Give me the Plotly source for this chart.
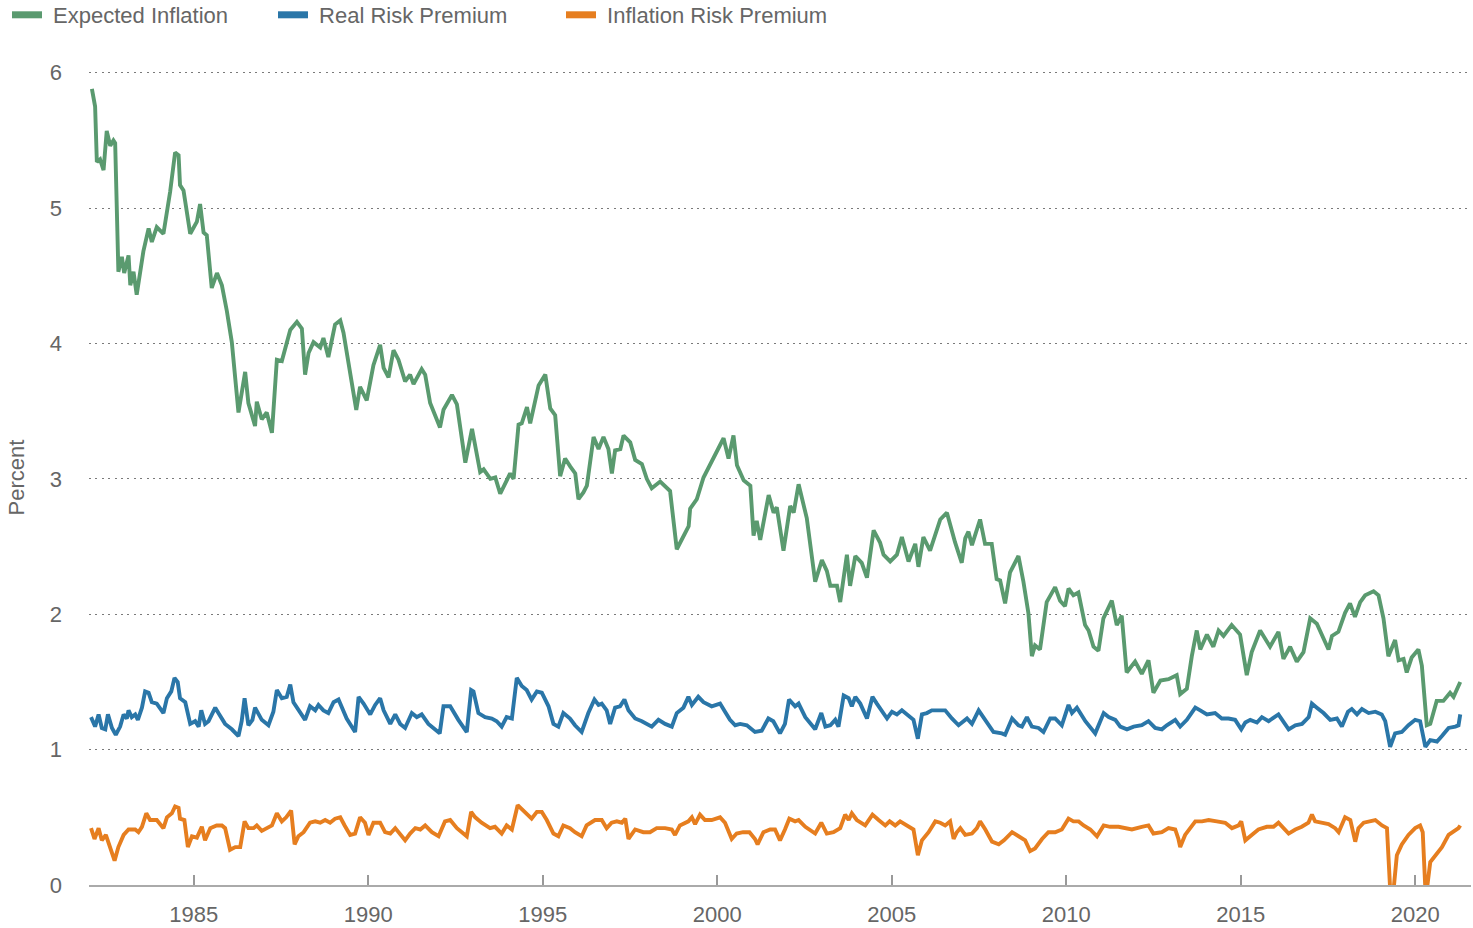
import plotly.graph_objects as go

# ---------------- data ----------------
# time in decimal years
GREEN_T = [1982.083, 1982.175, 1982.225, 1982.317, 1982.417, 1982.508, 1982.608, 1982.70, 1982.75, 1982.842,
           1982.942, 1983.008, 1983.133, 1983.183, 1983.275, 1983.367, 1983.558, 1983.708, 1983.80, 1983.942,
           1984.133, 1984.325, 1984.467, 1984.567, 1984.608, 1984.708, 1984.90, 1984.992, 1985.092, 1985.183,
           1985.283, 1985.375, 1985.517, 1985.667, 1985.808, 1985.95, 1986.092, 1986.283, 1986.475, 1986.567,
           1986.758, 1986.808, 1986.95, 1987.092, 1987.242, 1987.383, 1987.525, 1987.767, 1987.958, 1988.10,
           1988.192, 1988.292, 1988.433, 1988.625, 1988.717, 1988.858, 1989.05, 1989.20, 1989.292, 1989.658,
           1989.767, 1989.958, 1990.15, 1990.342, 1990.442, 1990.583, 1990.725, 1990.867, 1991.058, 1991.20,
           1991.30, 1991.533, 1991.633, 1991.775, 1992.058, 1992.158, 1992.40, 1992.542, 1992.783, 1992.975,
           1993.208, 1993.308, 1993.50, 1993.642, 1993.783, 1994.067, 1994.167, 1994.308, 1994.40, 1994.55,
           1994.642, 1994.883, 1995.075, 1995.217, 1995.358, 1995.50, 1995.642, 1995.792, 1995.933, 1996.025,
           1996.167, 1996.267, 1996.458, 1996.60, 1996.742, 1996.883, 1996.983, 1997.075, 1997.225, 1997.317,
           1997.508, 1997.65, 1997.842, 1997.983, 1998.125, 1998.367, 1998.508, 1998.65, 1998.842, 1998.992,
           1999.183, 1999.225, 1999.417, 1999.608, 1999.80, 1999.992, 2000.183, 2000.325, 2000.467, 2000.567,
           2000.758, 2000.95, 2001.042, 2001.133, 2001.233, 2001.475, 2001.617, 2001.708, 2001.90, 2002.092,
           2002.192, 2002.333, 2002.567, 2002.808, 2003.0, 2003.142, 2003.242, 2003.433, 2003.525, 2003.717,
           2003.808, 2003.958, 2004.142, 2004.292, 2004.483, 2004.667, 2004.767, 2004.958, 2005.15, 2005.292,
           2005.483, 2005.675, 2005.767, 2005.908, 2006.10, 2006.392, 2006.583, 2006.817, 2007.008, 2007.108,
           2007.20, 2007.30, 2007.533, 2007.675, 2007.867, 2008.008, 2008.108, 2008.25, 2008.392, 2008.633,
           2008.775, 2008.917, 2009.017, 2009.108, 2009.25, 2009.442, 2009.683, 2009.825, 2009.967, 2010.067,
           2010.208, 2010.35, 2010.542, 2010.642, 2010.783, 2010.925, 2011.067, 2011.308, 2011.45, 2011.592,
           2011.733, 2011.975, 2012.167, 2012.358, 2012.50, 2012.70, 2012.933, 2013.167, 2013.267, 2013.458,
           2013.60, 2013.742, 2013.842, 2014.033, 2014.217, 2014.367, 2014.508, 2014.742, 2014.983, 2015.175,
           2015.317, 2015.558, 2015.70, 2015.842, 2016.083, 2016.225, 2016.417, 2016.608, 2016.80, 2016.992,
           2017.183, 2017.517, 2017.617, 2017.80, 2017.992, 2018.133, 2018.275, 2018.425, 2018.567, 2018.808,
           2018.95, 2019.092, 2019.233, 2019.425, 2019.525, 2019.667, 2019.758, 2019.90, 2020.092, 2020.192,
           2020.333, 2020.433, 2020.617, 2020.808, 2021.0, 2021.10, 2021.292]
GREEN_V = [5.88, 5.75, 5.34, 5.36, 5.28, 5.57, 5.46, 5.50, 5.48, 4.53,
           4.64, 4.52, 4.65, 4.43, 4.53, 4.36, 4.68, 4.85, 4.75, 4.86,
           4.81, 5.12, 5.41, 5.39, 5.17, 5.13, 4.81, 4.85, 4.90, 5.03,
           4.82, 4.80, 4.41, 4.52, 4.43, 4.24, 4.01, 3.49, 3.79, 3.56,
           3.39, 3.57, 3.44, 3.49, 3.34, 3.88, 3.87, 4.10, 4.16, 4.11,
           3.77, 3.93, 4.01, 3.97, 4.04, 3.90, 4.14, 4.17, 4.08, 3.51,
           3.68, 3.58, 3.84, 3.99, 3.82, 3.75, 3.95, 3.88, 3.72, 3.77,
           3.70, 3.81, 3.77, 3.56, 3.38, 3.51, 3.62, 3.55, 3.12, 3.37,
           3.05, 3.07, 3.00, 3.01, 2.89, 3.04, 3.00, 3.40, 3.41, 3.53,
           3.41, 3.69, 3.77, 3.52, 3.47, 3.02, 3.15, 3.09, 3.04, 2.85,
           2.90, 2.95, 3.31, 3.22, 3.31, 3.22, 3.04, 3.21, 3.22, 3.32,
           3.27, 3.14, 3.11, 3.00, 2.93, 2.98, 2.94, 2.91, 2.48, 2.55,
           2.65, 2.78, 2.85, 3.01, 3.11, 3.20, 3.30, 3.15, 3.32, 3.10,
           2.99, 2.95, 2.58, 2.69, 2.55, 2.88, 2.75, 2.79, 2.47, 2.80,
           2.75, 2.96, 2.71, 2.24, 2.40, 2.32, 2.21, 2.21, 2.09, 2.44,
           2.21, 2.43, 2.38, 2.27, 2.62, 2.53, 2.44, 2.39, 2.44, 2.57,
           2.39, 2.52, 2.35, 2.57, 2.47, 2.70, 2.75, 2.53, 2.38, 2.56,
           2.61, 2.51, 2.70, 2.52, 2.52, 2.26, 2.25, 2.08, 2.31, 2.43,
           2.24, 2.01, 1.69, 1.77, 1.74, 2.09, 2.20, 2.10, 2.06, 2.19,
           2.14, 2.16, 1.92, 1.88, 1.76, 1.73, 1.97, 2.10, 1.92, 1.99,
           1.57, 1.65, 1.56, 1.66, 1.42, 1.51, 1.52, 1.55, 1.41, 1.45,
           1.69, 1.88, 1.74, 1.85, 1.76, 1.88, 1.84, 1.92, 1.85, 1.55,
           1.72, 1.88, 1.82, 1.76, 1.87, 1.67, 1.76, 1.65, 1.72, 1.97,
           1.93, 1.74, 1.84, 1.87, 2.01, 2.08, 1.98, 2.09, 2.14, 2.17,
           2.14, 1.97, 1.69, 1.81, 1.66, 1.67, 1.57, 1.68, 1.74, 1.62,
           1.18, 1.19, 1.36, 1.36, 1.42, 1.39, 1.50]

BLUE_T = [1982.058, 1982.175, 1982.275, 1982.367, 1982.467, 1982.542, 1982.658, 1982.767, 1982.892, 1982.992,
          1983.083, 1983.133, 1983.225, 1983.325, 1983.40, 1983.517, 1983.608, 1983.708, 1983.80, 1983.942,
          1984.133, 1984.233, 1984.358, 1984.45, 1984.542, 1984.608, 1984.758, 1984.90, 1985.042, 1985.142,
          1985.217, 1985.325, 1985.425, 1985.617, 1985.708, 1985.90, 1986.092, 1986.283, 1986.375, 1986.458,
          1986.567, 1986.683, 1986.758, 1986.858, 1986.95, 1987.142, 1987.283, 1987.383, 1987.525, 1987.667,
          1987.767, 1987.858, 1988.0, 1988.192, 1988.333, 1988.483, 1988.575, 1988.717, 1988.858, 1989.008,
          1989.15, 1989.225, 1989.383, 1989.625, 1989.725, 1989.867, 1990.058, 1990.20, 1990.342, 1990.442,
          1990.633, 1990.775, 1990.917, 1991.058, 1991.25, 1991.392, 1991.533, 1991.725, 1991.917, 1992.05,
          1992.158, 1992.35, 1992.583, 1992.825, 1992.95, 1993.017, 1993.158, 1993.35, 1993.542, 1993.683,
          1993.825, 1993.967, 1994.117, 1994.258, 1994.40, 1994.542, 1994.683, 1994.833, 1994.975, 1995.167,
          1995.308, 1995.45, 1995.592, 1995.783, 1995.925, 1996.117, 1996.308, 1996.483, 1996.60, 1996.692,
          1996.833, 1996.933, 1997.075, 1997.217, 1997.342, 1997.458, 1997.65, 1997.842, 1998.125, 1998.317,
          1998.508, 1998.70, 1998.842, 1999.033, 1999.175, 1999.275, 1999.458, 1999.608, 1999.842, 2000.083,
          2000.225, 2000.367, 2000.517, 2000.658, 2000.85, 2001.083, 2001.275, 2001.467, 2001.608, 2001.80,
          2001.942, 2002.058, 2002.233, 2002.333, 2002.525, 2002.808, 2002.983, 2003.10, 2003.242, 2003.383,
          2003.475, 2003.625, 2003.767, 2003.858, 2003.958, 2004.10, 2004.292, 2004.45, 2004.575, 2004.717,
          2004.867, 2005.008, 2005.15, 2005.292, 2005.433, 2005.625, 2005.75, 2005.867, 2006.008, 2006.15,
          2006.342, 2006.533, 2006.725, 2006.917, 2007.158, 2007.30, 2007.492, 2007.683, 2007.917, 2008.158,
          2008.25, 2008.45, 2008.633, 2008.733, 2008.875, 2009.017, 2009.208, 2009.35, 2009.542, 2009.683,
          2009.875, 2010.067, 2010.167, 2010.308, 2010.55, 2010.833, 2011.075, 2011.217, 2011.408, 2011.55,
          2011.742, 2011.933, 2012.167, 2012.358, 2012.55, 2012.742, 2012.883, 2013.125, 2013.267, 2013.458,
          2013.70, 2013.842, 2014.033, 2014.267, 2014.458, 2014.65, 2014.842, 2015.017, 2015.133, 2015.275,
          2015.467, 2015.608, 2015.80, 2016.083, 2016.225, 2016.375, 2016.567, 2016.758, 2016.95, 2017.042,
          2017.183, 2017.375, 2017.567, 2017.758, 2017.90, 2018.075, 2018.183, 2018.333, 2018.475, 2018.667,
          2018.858, 2019.042, 2019.142, 2019.283, 2019.425, 2019.617, 2019.808, 2020.0, 2020.142, 2020.292,
          2020.433, 2020.625, 2020.767, 2020.958, 2021.15, 2021.242, 2021.292]
BLUE_V = [1.24, 1.17, 1.26, 1.16, 1.15, 1.26, 1.16, 1.11, 1.17, 1.26,
          1.23, 1.29, 1.24, 1.26, 1.22, 1.31, 1.43, 1.42, 1.35, 1.34,
          1.27, 1.38, 1.43, 1.53, 1.50, 1.38, 1.35, 1.19, 1.21, 1.17,
          1.29, 1.19, 1.21, 1.31, 1.27, 1.19, 1.15, 1.10, 1.21, 1.38,
          1.18, 1.22, 1.31, 1.26, 1.22, 1.18, 1.28, 1.44, 1.38, 1.39,
          1.48, 1.35, 1.29, 1.22, 1.32, 1.29, 1.33, 1.29, 1.27, 1.35,
          1.37, 1.32, 1.23, 1.13, 1.39, 1.34, 1.26, 1.33, 1.38, 1.29,
          1.19, 1.26, 1.19, 1.16, 1.27, 1.24, 1.26, 1.19, 1.15, 1.12,
          1.32, 1.32, 1.22, 1.13, 1.44, 1.43, 1.27, 1.24, 1.23, 1.21,
          1.17, 1.24, 1.23, 1.53, 1.47, 1.44, 1.37, 1.43, 1.42, 1.32,
          1.19, 1.17, 1.27, 1.23, 1.18, 1.13, 1.27, 1.37, 1.33, 1.34,
          1.29, 1.19, 1.31, 1.32, 1.37, 1.29, 1.23, 1.21, 1.17, 1.22,
          1.19, 1.17, 1.27, 1.31, 1.39, 1.33, 1.39, 1.35, 1.32, 1.34,
          1.28, 1.22, 1.18, 1.19, 1.18, 1.13, 1.14, 1.23, 1.21, 1.12,
          1.19, 1.37, 1.32, 1.34, 1.24, 1.15, 1.27, 1.17, 1.18, 1.22,
          1.17, 1.40, 1.38, 1.32, 1.39, 1.34, 1.23, 1.39, 1.34, 1.28,
          1.23, 1.28, 1.26, 1.29, 1.26, 1.22, 1.08, 1.26, 1.27, 1.29,
          1.29, 1.29, 1.23, 1.18, 1.23, 1.19, 1.29, 1.22, 1.13, 1.12,
          1.11, 1.23, 1.18, 1.17, 1.24, 1.17, 1.16, 1.13, 1.23, 1.23,
          1.18, 1.33, 1.27, 1.31, 1.21, 1.12, 1.27, 1.24, 1.22, 1.17,
          1.15, 1.17, 1.18, 1.21, 1.16, 1.15, 1.18, 1.22, 1.17, 1.22,
          1.31, 1.29, 1.26, 1.27, 1.23, 1.23, 1.22, 1.15, 1.20, 1.22,
          1.20, 1.24, 1.21, 1.26, 1.20, 1.15, 1.18, 1.19, 1.24, 1.34,
          1.31, 1.27, 1.22, 1.23, 1.17, 1.28, 1.30, 1.26, 1.30, 1.27,
          1.28, 1.26, 1.21, 1.02, 1.12, 1.13, 1.18, 1.22, 1.21, 1.02,
          1.07, 1.06, 1.10, 1.16, 1.17, 1.18, 1.26]

ORANGE_T = [1982.058, 1982.158, 1982.275, 1982.367, 1982.483, 1982.575, 1982.733, 1982.842, 1982.992, 1983.133,
            1983.325, 1983.417, 1983.517, 1983.642, 1983.75, 1983.942, 1984.133, 1984.233, 1984.375, 1984.467,
            1984.567, 1984.608, 1984.733, 1984.833, 1984.95, 1985.092, 1985.233, 1985.325, 1985.475, 1985.658,
            1985.808, 1985.90, 1986.042, 1986.192, 1986.333, 1986.458, 1986.567, 1986.717, 1986.808, 1986.95,
            1987.092, 1987.242, 1987.383, 1987.525, 1987.65, 1987.792, 1987.892, 1988.0, 1988.15, 1988.333,
            1988.483, 1988.625, 1988.767, 1988.908, 1989.05, 1989.20, 1989.325, 1989.483, 1989.625, 1989.767,
            1989.908, 1990.008, 1990.15, 1990.342, 1990.483, 1990.633, 1990.775, 1990.917, 1991.058, 1991.20,
            1991.35, 1991.492, 1991.633, 1991.825, 1992.017, 1992.20, 1992.35, 1992.542, 1992.825, 1992.95,
            1993.067, 1993.25, 1993.492, 1993.633, 1993.825, 1993.967, 1994.117, 1994.283, 1994.45, 1994.683,
            1994.833, 1994.975, 1995.117, 1995.308, 1995.45, 1995.592, 1995.783, 1995.925, 1996.117, 1996.258,
            1996.50, 1996.692, 1996.833, 1996.975, 1997.125, 1997.267, 1997.367, 1997.458, 1997.65, 1997.883,
            1998.075, 1998.267, 1998.508, 1998.70, 1998.792, 1998.933, 1999.175, 1999.275, 1999.367, 1999.508,
            1999.65, 1999.842, 2000.083, 2000.225, 2000.417, 2000.558, 2000.742, 2000.925, 2001.083, 2001.158,
            2001.325, 2001.517, 2001.658, 2001.80, 2001.942, 2002.067, 2002.233, 2002.333, 2002.525, 2002.808,
            2002.983, 2003.142, 2003.333, 2003.525, 2003.667, 2003.767, 2003.858, 2004.0, 2004.242, 2004.45,
            2004.625, 2004.817, 2004.942, 2005.10, 2005.242, 2005.433, 2005.625, 2005.75, 2005.867, 2006.058,
            2006.25, 2006.392, 2006.533, 2006.675, 2006.775, 2006.867, 2006.967, 2007.108, 2007.30, 2007.442,
            2007.533, 2007.683, 2007.875, 2008.067, 2008.217, 2008.45, 2008.633, 2008.825, 2008.967, 2009.108,
            2009.308, 2009.492, 2009.683, 2009.875, 2010.067, 2010.208, 2010.358, 2010.50, 2010.692, 2010.883,
            2011.075, 2011.258, 2011.50, 2011.692, 2011.883, 2012.167, 2012.358, 2012.50, 2012.742, 2012.933,
            2013.125, 2013.217, 2013.267, 2013.408, 2013.55, 2013.70, 2013.892, 2014.083, 2014.317, 2014.558,
            2014.75, 2014.942, 2015.017, 2015.133, 2015.317, 2015.508, 2015.75, 2015.942, 2016.083, 2016.225,
            2016.375, 2016.567, 2016.75, 2016.942, 2017.042, 2017.133, 2017.325, 2017.517, 2017.708, 2017.808,
            2017.992, 2018.142, 2018.283, 2018.375, 2018.525, 2018.708, 2018.858, 2019.05, 2019.192, 2019.283,
            2019.383, 2019.475, 2019.617, 2019.808, 2020.0, 2020.142, 2020.217, 2020.292, 2020.342, 2020.433,
            2020.575, 2020.767, 2020.958, 2021.15, 2021.242, 2021.292]
ORANGE_V = [0.42, 0.34, 0.42, 0.33, 0.37, 0.30, 0.18, 0.28, 0.37, 0.41,
            0.41, 0.39, 0.43, 0.53, 0.48, 0.48, 0.42, 0.50, 0.53, 0.58,
            0.57, 0.49, 0.48, 0.28, 0.36, 0.35, 0.43, 0.33, 0.42, 0.44,
            0.44, 0.42, 0.26, 0.28, 0.28, 0.47, 0.42, 0.42, 0.44, 0.40,
            0.42, 0.44, 0.53, 0.47, 0.50, 0.55, 0.30, 0.36, 0.39, 0.46,
            0.47, 0.46, 0.48, 0.46, 0.49, 0.50, 0.44, 0.37, 0.38, 0.50,
            0.46, 0.37, 0.46, 0.46, 0.39, 0.38, 0.42, 0.38, 0.33, 0.38,
            0.42, 0.41, 0.44, 0.39, 0.36, 0.47, 0.48, 0.42, 0.36, 0.54,
            0.50, 0.46, 0.42, 0.43, 0.38, 0.44, 0.41, 0.59, 0.55, 0.49,
            0.54, 0.54, 0.48, 0.38, 0.36, 0.44, 0.42, 0.39, 0.36, 0.44,
            0.48, 0.48, 0.42, 0.46, 0.47, 0.46, 0.49, 0.34, 0.41, 0.39,
            0.39, 0.42, 0.42, 0.41, 0.37, 0.44, 0.47, 0.50, 0.45, 0.52,
            0.48, 0.48, 0.50, 0.46, 0.34, 0.38, 0.39, 0.39, 0.34, 0.30,
            0.39, 0.41, 0.41, 0.33, 0.41, 0.49, 0.47, 0.48, 0.43, 0.38,
            0.46, 0.38, 0.39, 0.42, 0.52, 0.48, 0.53, 0.48, 0.44, 0.52,
            0.48, 0.44, 0.47, 0.44, 0.47, 0.44, 0.41, 0.22, 0.33, 0.39,
            0.47, 0.46, 0.44, 0.47, 0.34, 0.39, 0.42, 0.37, 0.38, 0.42,
            0.47, 0.41, 0.32, 0.30, 0.33, 0.39, 0.36, 0.33, 0.25, 0.27,
            0.34, 0.39, 0.39, 0.41, 0.49, 0.47, 0.47, 0.44, 0.41, 0.36,
            0.44, 0.43, 0.43, 0.42, 0.41, 0.43, 0.44, 0.38, 0.39, 0.42,
            0.41, 0.34, 0.28, 0.37, 0.42, 0.47, 0.47, 0.48, 0.47, 0.46,
            0.42, 0.44, 0.47, 0.33, 0.37, 0.41, 0.43, 0.43, 0.46, 0.42,
            0.38, 0.41, 0.43, 0.46, 0.52, 0.47, 0.46, 0.45, 0.42, 0.39,
            0.50, 0.48, 0.32, 0.42, 0.46, 0.47, 0.48, 0.44, 0.42, -0.03,
            -0.03, 0.22, 0.30, 0.37, 0.42, 0.44, 0.39, -0.03, -0.02, 0.17,
            0.22, 0.28, 0.37, 0.41, 0.42, 0.44]

SERIES_NAMES = ["Expected Inflation", "Real Risk Premium", "Inflation Risk Premium"]
COLORS = ["#5a9a6f", "#2a76a8", "#e67e1f"]
X_TICKS = [1985, 1990, 1995, 2000, 2005, 2010, 2015, 2020]
Y_TICKS = [0, 1, 2, 3, 4, 5, 6]

TEXT = "#666666"
FONT = "Liberation Sans, Arial, sans-serif"

fig = go.Figure()
series = [(GREEN_T, GREEN_V), (BLUE_T, BLUE_V), (ORANGE_T, ORANGE_V)]
legend_ids = ["legend", "legend2", "legend3"]
for (t, v), name, col in zip(series, SERIES_NAMES, COLORS):
    fig.add_trace(go.Scatter(x=t, y=v, mode="lines", name=name, showlegend=False,
                             line=dict(color=col, width=3.9), hoverinfo="x+y+name"))
# legend-only entries (thick swatches)
for name, col, lg in zip(SERIES_NAMES, COLORS, legend_ids):
    fig.add_trace(go.Scatter(x=[None], y=[None], mode="lines", name=" " + name, legend=lg,
                             line=dict(color=col, width=7), showlegend=True))

LEG_Y = 1 - 15 / 928
leg_common = dict(orientation="h", xref="container", yref="container", y=LEG_Y, yanchor="middle",
                  xanchor="left", font=dict(family=FONT, size=22, color=TEXT),
                  bgcolor="rgba(0,0,0,0)", borderwidth=0)
fig.update_layout(
    width=1473, height=928,
    margin=dict(l=89, r=2, t=70, b=43, autoexpand=False),
    paper_bgcolor="white", plot_bgcolor="white",
    font=dict(family=FONT, size=22, color=TEXT),
    legend=dict(x=7.0 / 1473, **leg_common),
    legend2=dict(x=273.0 / 1473, **leg_common),
    legend3=dict(x=561.0 / 1473, **leg_common),
    xaxis=dict(range=[1982.0, 2021.6], tickmode="array", tickvals=X_TICKS,
               ticktext=[str(v) for v in X_TICKS], ticks="inside", ticklen=10,
               tickcolor="#999999", tickwidth=1.5, showgrid=False, zeroline=False,
               showline=True, linecolor="#aaaaaa", linewidth=1.5,
               tickfont=dict(family=FONT, size=22, color=TEXT), ticklabelstandoff=9),
    yaxis=dict(range=[0, 6.02], tickmode="array", tickvals=Y_TICKS,
               ticktext=[str(v) for v in Y_TICKS], showgrid=True, gridcolor="#7a7a7a",
               griddash="2px,4.4px", gridwidth=1.2, zeroline=False, showline=False, ticks="",
               tickfont=dict(family=FONT, size=22, color=TEXT), ticklabelstandoff=26),
    annotations=[dict(text="Percent", xref="paper", yref="paper", x=(16 - 89) / 1382, y=0.5,
                      xanchor="center", yanchor="middle", textangle=-90, showarrow=False,
                      font=dict(family=FONT, size=22, color=TEXT))],
)

fig.write_html("out.html", config={"displayModeBar": False},
               post_script="document.body.style.margin='0px';document.body.style.overflow='hidden';")
